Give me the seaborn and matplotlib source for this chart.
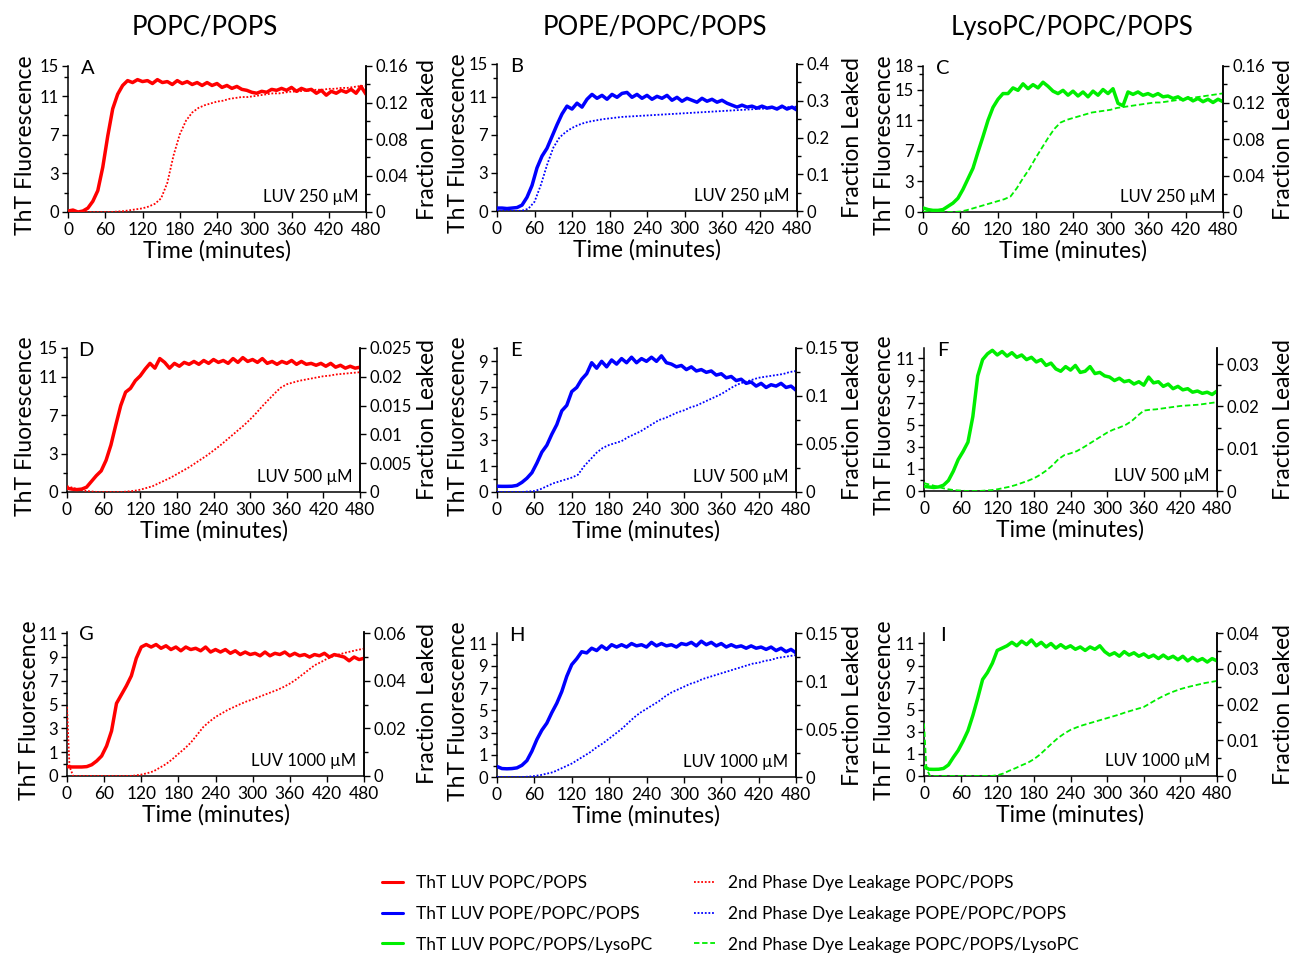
import matplotlib
matplotlib.use('Agg')
import matplotlib.pyplot as plt
from matplotlib.lines import Line2D
from matplotlib.ticker import FixedLocator, MultipleLocator, NullLocator
import seaborn as sns

sns.set_theme(style='ticks', rc={'axes.edgecolor': 'black', 'xtick.color': 'black',
                                 'ytick.color': 'black', 'axes.labelcolor': 'black',
                                 'text.color': 'black'})
plt.rcParams['font.family'] = ['Lato', 'DejaVu Sans']

# ---------------- data ----------------
T_THT = list(range(0, 481, 8))
T_LEAK = [0, 4] + list(range(10, 481, 10))
X_TICKS = [0, 60, 120, 180, 240, 300, 360, 420, 480]

COL_TITLES = ["POPC/POPS", "POPE/POPC/POPS", "LysoPC/POPC/POPS"]
PANEL_LETTERS = ["A", "B", "C", "D", "E", "F", "G", "H", "I"]
LUV_LABELS = ["LUV 250 µM", "LUV 250 µM", "LUV 250 µM",
              "LUV 500 µM", "LUV 500 µM", "LUV 500 µM",
              "LUV 1000 µM", "LUV 1000 µM", "LUV 1000 µM"]
LEGEND_THT = ["ThT LUV POPC/POPS", "ThT LUV POPE/POPC/POPS", "ThT LUV POPC/POPS/LysoPC"]
LEGEND_LEAK = ["2nd Phase Dye Leakage POPC/POPS", "2nd Phase Dye Leakage POPE/POPC/POPS",
               "2nd Phase Dye Leakage POPC/POPS/LysoPC"]

tht_A = [0.1, 0.2, 0.0, 0.1, 0.4, 1.1, 2.2, 4.6, 7.8, 10.6,
         12.1, 13.0, 13.5, 13.3, 13.6, 13.4, 13.5, 13.2, 13.6, 13.3,
         13.4, 13.1, 13.5, 13.2, 13.4, 13.1, 13.3, 13.0, 13.3, 13.0,
         13.2, 12.8, 13.0, 12.7, 12.9, 12.6, 12.5, 12.3, 12.2, 12.4,
         12.3, 12.6, 12.5, 12.7, 12.5, 12.8, 12.4, 12.7, 12.5, 12.6,
         12.2, 12.5, 12.0, 12.4, 12.2, 12.5, 12.3, 12.6, 12.2, 12.9,
         12.1]
leak_A = [0, 0,
          0, 0, 0, 0, 0, 0, 0, 0.0005, 0.001, 0.002,
          0.003, 0.004, 0.006, 0.009, 0.015, 0.032, 0.062, 0.085, 0.1, 0.109,
          0.114, 0.117, 0.119, 0.121, 0.122, 0.124, 0.125, 0.126, 0.126, 0.127,
          0.128, 0.129, 0.13, 0.13, 0.131, 0.132, 0.132, 0.133, 0.133, 0.134,
          0.134, 0.135, 0.135, 0.136, 0.136, 0.137, 0.138, 0.138]

tht_B = [0.3, 0.3, 0.25, 0.3, 0.35, 0.6, 1.4, 2.6, 4.4, 5.6,
         6.4, 7.6, 8.8, 9.9, 10.7, 10.4, 11.0, 10.6, 11.4, 11.9,
         11.5, 11.8, 11.4, 11.9, 11.6, 12.0, 12.1, 11.6, 11.9, 11.5,
         11.8, 11.4, 11.7, 11.5, 11.8, 11.3, 11.6, 11.2, 11.5, 11.3,
         11.1, 11.5, 11.2, 11.4, 11.1, 11.3, 11.0, 10.8, 10.6, 10.8,
         10.6, 10.7, 10.5, 10.7, 10.5, 10.6, 10.4, 10.7, 10.4, 10.6,
         10.3]
leak_B = [0, 0,
          0, 0, 0, 0.001, 0.006, 0.025, 0.07, 0.125, 0.172, 0.2,
          0.215, 0.226, 0.234, 0.24, 0.244, 0.247, 0.25, 0.252, 0.254, 0.256,
          0.257, 0.258, 0.259, 0.26, 0.261, 0.262, 0.263, 0.264, 0.265, 0.266,
          0.267, 0.268, 0.269, 0.27, 0.271, 0.272, 0.273, 0.274, 0.275, 0.276,
          0.277, 0.278, 0.279, 0.28, 0.281, 0.282, 0.283, 0.284]

tht_C = [0.5, 0.3, 0.2, 0.2, 0.3, 0.7, 1.1, 1.7, 2.8, 4.1,
         5.4, 7.4, 9.3, 11.3, 12.9, 13.9, 14.6, 14.6, 15.3, 15.0,
         15.8, 15.2, 15.7, 15.3, 16.0, 15.5, 14.9, 14.6, 15.0, 14.4,
         14.9, 14.3, 14.8, 14.2, 14.9, 14.4, 15.1, 14.6, 15.2, 13.4,
         13.1, 14.8, 14.5, 14.8, 14.4, 14.6, 14.3, 14.6, 14.2, 14.3,
         14.0, 14.2, 13.8, 14.1, 13.7, 14.0, 13.6, 13.9, 13.5, 13.9,
         13.6]
leak_C = [0, 0,
          0, 0, 0, 0, 0, 0.0005, 0.002, 0.004, 0.006, 0.008,
          0.01, 0.012, 0.014, 0.017, 0.026, 0.037, 0.047, 0.059, 0.07, 0.081,
          0.091, 0.098, 0.101, 0.103, 0.105, 0.107, 0.109, 0.11, 0.111, 0.112,
          0.114, 0.115, 0.116, 0.117, 0.118, 0.119, 0.12, 0.12, 0.121, 0.122,
          0.123, 0.124, 0.125, 0.126, 0.127, 0.128, 0.129, 0.13]

tht_D = [0.4, 0.3, 0.25, 0.3, 0.5, 1.1, 1.7, 2.2, 3.3, 4.9,
         7.0, 9.0, 10.4, 10.8, 11.6, 12.1, 12.8, 13.4, 12.9, 13.9,
         13.5, 12.9, 13.4, 13.1, 13.5, 13.3, 13.6, 13.3, 13.7, 13.4,
         13.8, 13.5, 13.7, 13.4, 13.9, 13.5, 14.0, 13.6, 13.8, 13.5,
         13.9, 13.4, 13.6, 13.3, 13.6, 13.4, 13.7, 13.3, 13.6, 13.3,
         13.4, 13.2, 13.4, 13.1, 13.4, 13.0, 13.2, 12.9, 13.1, 12.9,
         13.0]
leak_D = [0.001, 0.0009,
          0.0007, 0.0004, 0.0002, 0.0001, 0, 0, 0, 0, 0, 0.0001,
          0.0002, 0.0004, 0.0007, 0.001, 0.0015, 0.002, 0.0025, 0.0031, 0.0037, 0.0043,
          0.005, 0.0057, 0.0064, 0.0072, 0.008, 0.0089, 0.0098, 0.0107, 0.0116, 0.0126,
          0.0137, 0.0149, 0.016, 0.0171, 0.0181, 0.0187, 0.019, 0.0193, 0.0195, 0.0197,
          0.0199, 0.0201, 0.0202, 0.0204, 0.0205, 0.0206, 0.0207, 0.0208]

tht_E = [0.42, 0.41, 0.41, 0.42, 0.48, 0.7, 1.0, 1.4, 2.1, 2.9,
         3.4, 4.2, 4.9, 5.9, 6.3, 7.3, 7.6, 8.2, 8.6, 9.4,
         9.0, 9.5, 9.1, 9.6, 9.3, 9.7, 9.4, 9.8, 9.4, 9.7,
         9.5, 9.8, 9.5, 9.9, 9.4, 9.3, 9.1, 9.2, 8.9, 9.1,
         8.8, 8.9, 8.7, 8.8, 8.5, 8.6, 8.3, 8.4, 8.1, 8.2,
         7.9, 8.0, 7.7, 7.9, 7.6, 7.8, 7.7, 7.9, 7.6, 7.7,
         7.4]
leak_E = [0, 0,
          0, 0, 0, 0, 0.0005, 0.001, 0.003, 0.006, 0.009, 0.011,
          0.013, 0.015, 0.018, 0.027, 0.034, 0.041, 0.046, 0.049, 0.051, 0.053,
          0.057, 0.06, 0.063, 0.067, 0.071, 0.075, 0.077, 0.08, 0.083, 0.085,
          0.088, 0.09, 0.093, 0.096, 0.099, 0.102, 0.106, 0.11, 0.113, 0.115,
          0.117, 0.119, 0.12, 0.121, 0.122, 0.123, 0.125, 0.126]

tht_F = [0.4, 0.35, 0.3, 0.35, 0.5, 0.9, 1.7, 2.7, 3.4, 4.2,
         6.4, 9.9, 11.3, 11.8, 12.1, 11.7, 12.0, 11.6, 11.9, 11.5,
         11.7, 11.3, 11.5, 11.1, 11.3, 10.8, 11.0, 10.5, 10.3, 10.7,
         10.4, 10.8, 10.2, 10.3, 10.7, 10.1, 10.2, 9.9, 9.8, 9.5,
         9.7, 9.4, 9.5, 9.2, 9.4, 9.1, 9.8, 9.3, 9.4, 9.0,
         9.2, 8.8, 9.0, 8.7, 8.8, 8.5, 8.6, 8.4, 8.5, 8.3,
         8.6]
leak_F = [0.0019, 0.0017,
          0.0015, 0.0011, 0.0007, 0.0004, 0.0002, 0.0001, 0, 0, 0, 0.0001,
          0.0002, 0.0004, 0.0007, 0.001, 0.0014, 0.0019, 0.0024, 0.003, 0.0038, 0.0048,
          0.006, 0.0075, 0.0085, 0.0089, 0.0094, 0.0102, 0.0111, 0.012, 0.0129, 0.0138,
          0.0145, 0.015, 0.0156, 0.0165, 0.0178, 0.019, 0.0192, 0.0193, 0.0195, 0.0197,
          0.0199, 0.0201, 0.0202, 0.0203, 0.0204, 0.0206, 0.0208, 0.021]

tht_G = [0.75, 0.72, 0.72, 0.72, 0.75, 0.9, 1.2, 1.6, 2.4, 3.6,
         5.8, 6.5, 7.2, 8.0, 9.4, 10.3, 10.5, 10.3, 10.5, 10.2,
         10.4, 10.1, 10.3, 10.0, 10.3, 10.1, 10.2, 10.0, 10.3, 9.9,
         10.1, 9.9, 10.1, 9.8, 10.0, 9.7, 9.9, 9.7, 9.8, 9.6,
         9.9, 9.6, 9.8, 9.7, 9.9, 9.6, 9.8, 9.6, 9.7, 9.5,
         9.7, 9.6, 9.8, 9.5, 9.7, 9.6, 9.5, 9.2, 9.5, 9.3,
         9.4]
leak_G = [0.029, 0.004,
          0, 0, 0, 0, 0, 0, 0, 0, 0, 0,
          0.0002, 0.0006, 0.0012, 0.002, 0.0035, 0.005, 0.007, 0.0093, 0.0115, 0.014,
          0.0172, 0.0205, 0.0228, 0.0248, 0.0263, 0.0278, 0.029, 0.0302, 0.0313, 0.0322,
          0.0332, 0.0342, 0.0352, 0.0362, 0.0374, 0.0388, 0.0405, 0.0425, 0.0445, 0.0465,
          0.0478, 0.0492, 0.0503, 0.0511, 0.0518, 0.0524, 0.053, 0.0535]

tht_H = [0.9, 0.72, 0.7, 0.72, 0.78, 1.0, 1.4, 2.2, 3.2, 4.0,
         4.6, 5.5, 6.3, 7.3, 8.6, 9.6, 10.1, 10.7, 10.6, 11.0,
         10.8, 11.2, 10.9, 11.3, 11.1, 11.3, 11.1, 11.4, 11.2, 11.3,
         11.1, 11.5, 11.2, 11.4, 11.2, 11.3, 11.1, 11.4, 11.3, 11.5,
         11.2, 11.6, 11.3, 11.5, 11.2, 11.4, 11.1, 11.3, 11.1, 11.2,
         11.0, 11.2, 11.0, 11.1, 10.9, 11.1, 10.8, 11.0, 10.7, 10.9,
         10.6]
leak_H = [0, 0,
          0, 0, 0, 0, 0.0003, 0.001, 0.002, 0.0035, 0.005, 0.008,
          0.011, 0.014, 0.018, 0.022, 0.026, 0.031, 0.035, 0.04, 0.045, 0.05,
          0.056, 0.062, 0.067, 0.071, 0.075, 0.079, 0.084, 0.088, 0.091, 0.094,
          0.097, 0.099, 0.102, 0.104, 0.106, 0.108, 0.11, 0.112, 0.114, 0.116,
          0.118, 0.119, 0.121, 0.122, 0.124, 0.125, 0.126, 0.127]

tht_I = [0.8, 0.58, 0.57, 0.58, 0.65, 0.95, 1.6, 2.2, 3.0, 3.9,
         5.2, 6.7, 8.3, 8.9, 9.7, 10.8, 11.0, 11.2, 11.5, 11.2,
         11.6, 11.3, 11.7, 11.2, 11.5, 11.1, 11.4, 11.0, 11.3, 11.0,
         11.2, 10.9, 11.1, 10.8, 11.1, 10.9, 11.2, 10.7, 10.4, 10.6,
         10.3, 10.7, 10.4, 10.6, 10.3, 10.5, 10.2, 10.4, 10.1, 10.4,
         10.1, 10.3, 10.0, 10.3, 9.9, 10.2, 9.9, 10.1, 9.8, 10.1,
         9.9]
leak_I = [0.0147, 0.002,
          0, 0, 0, 0, 0, 0, 0, 0, 0, 0,
          0, 0.0002, 0.0007, 0.0015, 0.0022, 0.003, 0.0037, 0.0047, 0.006, 0.0076,
          0.0092, 0.0107, 0.0119, 0.0129, 0.0136, 0.0142, 0.0147, 0.0152, 0.0157, 0.0162,
          0.0167, 0.0172, 0.0178, 0.0183, 0.0188, 0.0193, 0.0203, 0.0213, 0.0222, 0.023,
          0.0237, 0.0243, 0.0248, 0.0252, 0.0256, 0.026, 0.0263, 0.0266]

# tick labels (as printed in the original figure)
THT_LABELS_15 = ["0", "3", "7", "11", "15"]
THT_LABELS_18 = ["0", "3", "7", "11", "15", "18"]
THT_LABELS_9 = ["0", "1", "3", "5", "7", "9"]
THT_LABELS_11 = ["0", "1", "3", "5", "7", "9", "11"]
LEAK_LABELS_016 = ["0", "0.04", "0.08", "0.12", "0.16"]
LEAK_LABELS_04 = ["0", "0.1", "0.2", "0.3", "0.4"]
LEAK_LABELS_0025 = ["0", "0.005", "0.01", "0.015", "0.02", "0.025"]
LEAK_LABELS_015 = ["0", "0.05", "0.1", "0.15"]
LEAK_LABELS_003 = ["0", "0.01", "0.02", "0.03"]
LEAK_LABELS_006 = ["0", "0.02", "0.04", "0.06"]
LEAK_LABELS_004 = ["0", "0.01", "0.02", "0.03", "0.04"]

THT = [tht_A, tht_B, tht_C, tht_D, tht_E, tht_F, tht_G, tht_H, tht_I]
LEAK = [leak_A, leak_B, leak_C, leak_D, leak_E, leak_F, leak_G, leak_H, leak_I]

# ---------------- styles / layout ----------------
COLORS = ['#FF0000', '#0000FF', '#00EE00']
LEAK_STYLES = [(0, (1, 1)), (0, (1, 1)), (0, (3, 1.5))]

S19 = [0, 1.9, 3.8, 5.7, 7.6, 9.5, 11.4]
PANEL_CFG = [
    # left top, left major positions, left labels, left minor step,
    # right top, right ticks, right labels, right minor step
    (15, [0, 3.97, 7.94, 11.91, 15], THT_LABELS_15, 3.97,
     0.16, [0, 0.04, 0.08, 0.12, 0.16], LEAK_LABELS_016, 0.02),
    (15, [0, 3.88, 7.76, 11.64, 15], THT_LABELS_15, 3.88,
     0.4, [0, 0.1, 0.2, 0.3, 0.4], LEAK_LABELS_04, 0.05),
    (18, [0, 3.78, 7.56, 11.34, 15.1, 18], THT_LABELS_18, 3.78,
     0.16, [0, 0.04, 0.08, 0.12, 0.16], LEAK_LABELS_016, 0.02),
    (15, [0, 4.01, 8.02, 12.03, 15], THT_LABELS_15, 4.01,
     0.025, [0, 0.005, 0.01, 0.015, 0.02, 0.025], LEAK_LABELS_0025, None),
    (10.47, S19[:6], THT_LABELS_9, 1.9,
     0.15, [0, 0.05, 0.1, 0.15], LEAK_LABELS_015, 0.025),
    (12.3, S19, THT_LABELS_11, 1.9,
     0.0338, [0, 0.01, 0.02, 0.03], LEAK_LABELS_003, 0.005),
    (11.5, S19, THT_LABELS_11, 1.9,
     0.0605, [0, 0.02, 0.04, 0.06], LEAK_LABELS_006, 0.01),
    (12.3, S19, THT_LABELS_11, 1.9,
     0.15, [0, 0.05, 0.1, 0.15], LEAK_LABELS_015, 0.025),
    (12.3, S19, THT_LABELS_11, 1.9,
     0.04, [0, 0.01, 0.02, 0.03, 0.04], LEAK_LABELS_004, 0.005),
]

W, H = 1295, 960
# pixel boxes of each panel: (x0, x1, ytop, ybottom)
BOXES = [(68, 366, 66, 212), (497, 797, 64, 211), (923, 1223, 66, 212),
         (67, 360, 348, 492), (497, 796, 348, 492), (924, 1217, 348, 491),
         (67, 364, 632, 776), (497, 796, 633, 777), (924, 1217, 633, 776)]
# pixel x of the right edge of the left label and left edge of the right label
YLAB_RIGHT = [36, 469, 895, 36, 469, 895, 40, 469, 895]
Y2LAB_LEFT = [417, 842, 1273, 417, 842, 1273, 417, 842, 1273]

fig = plt.figure(figsize=(W / 100, H / 100), dpi=100)

TICK_FS = 12
LAB_FS = 16.5

for i in range(9):
    r, c = divmod(i, 3)
    x0, x1, y0, y1 = BOXES[i]
    ax = fig.add_axes([x0 / W, 1 - y1 / H, (x1 - x0) / W, (y1 - y0) / H])
    ax2 = ax.twinx()
    ytop, yt, ytl, ymin_step, rtop, rt, rtl, rminor = PANEL_CFG[i]
    col = COLORS[c]

    sns.lineplot(x=T_THT, y=THT[i], ax=ax, color=col, linewidth=2.5, zorder=3)
    sns.lineplot(x=T_LEAK, y=LEAK[i], ax=ax2, color=col, linewidth=1.3,
                 linestyle=LEAK_STYLES[c], zorder=2)

    ax.set_xlim(0, 480)
    ax.set_ylim(0, ytop)
    ax2.set_ylim(0, rtop)
    ax.set_xticks(X_TICKS)
    ax.set_xticklabels([str(v) for v in X_TICKS], fontsize=12.5)
    ax.yaxis.set_major_locator(FixedLocator(yt))
    ax.set_yticklabels(ytl, fontsize=TICK_FS)
    ax.yaxis.set_minor_locator(FixedLocator(
        [ymin_step * (k + 0.5) for k in range(int(ytop / ymin_step) + 1)
         if ymin_step * (k + 0.5) < ytop]))
    ax2.yaxis.set_major_locator(FixedLocator(rt))
    ax2.set_yticklabels(rtl, fontsize=TICK_FS)
    if rminor:
        ax2.yaxis.set_minor_locator(MultipleLocator(rminor))
    else:
        ax2.yaxis.set_minor_locator(NullLocator())

    for a in (ax, ax2):
        a.spines['top'].set_visible(False)
        for s in a.spines.values():
            s.set_linewidth(1.1)
            s.set_color('black')
        a.tick_params(axis='both', which='major', direction='out', length=4.5, width=1.0,
                      pad=2, colors='black')
        a.tick_params(axis='y', which='minor', direction='out', length=3, width=1.0)
    ax.tick_params(axis='x', pad=3)
    ax2.spines['left'].set_visible(False)
    ax2.spines['bottom'].set_visible(False)

    ax.set_xlabel("Time (minutes)", fontsize=LAB_FS, labelpad=1)
    ax.set_ylabel("ThT Fluorescence", fontsize=LAB_FS)
    ax.yaxis.set_label_coords((YLAB_RIGHT[i] - x0) / (x1 - x0), 0.46)
    ax2.set_ylabel("Fraction Leaked", fontsize=LAB_FS, rotation=90)
    ax2.yaxis.set_label_coords((Y2LAB_LEFT[i] - x0) / (x1 - x0), 0.5)

    ax.text(0.065, 0.985, PANEL_LETTERS[i], transform=ax.transAxes, fontsize=14.5,
            ha='center', va='center')
    ax.text(0.975, 0.105, LUV_LABELS[i], transform=ax.transAxes, fontsize=12,
            ha='right', va='center')

# column titles
for c, title in enumerate(COL_TITLES):
    fig.text([205, 655, 1072][c] / W, 1 - 27 / H, title, fontsize=18.5, ha='center', va='center')

# legend
handles = [Line2D([], [], color=COLORS[k], linewidth=2.2) for k in range(3)] + \
          [Line2D([], [], color=COLORS[k], linewidth=1.3, linestyle=LEAK_STYLES[k]) for k in range(3)]
fig.legend(handles, LEGEND_THT + LEGEND_LEAK, ncol=2, loc='upper left',
           bbox_to_anchor=(382 / W, 1 - 875 / H), frameon=False, fontsize=12.5,
           handlelength=1.2, handletextpad=0.75, columnspacing=2.4, labelspacing=0.85,
           borderpad=0, borderaxespad=0)

fig.savefig('out.png', dpi=100)
